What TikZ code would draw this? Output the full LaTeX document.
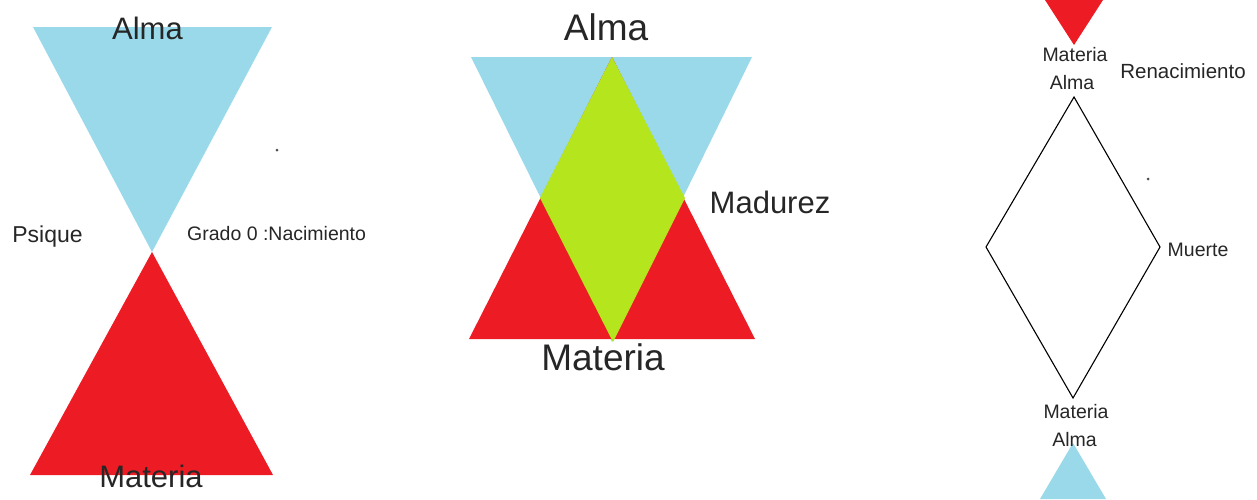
\documentclass[tikz,border=0pt]{standalone}
\usepackage{fontspec}
\setmainfont{Liberation Sans}
\usetikzlibrary{positioning, calc}
\definecolor{almablue}{RGB}{153,217,234}
\definecolor{materiared}{RGB}{237,28,36}
\definecolor{madurezgreen}{RGB}{181,230,29}

\begin{document}
\begin{tikzpicture}[x=1pt, y=-1pt]
        \tikzstyle{lbl} = [inner sep=0pt, text=black!85]
        \tikzstyle{huge} = [lbl, font=\fontsize{37}{37}\selectfont]
        \tikzstyle{big} = [lbl, font=\fontsize{31}{31}\selectfont]
        \tikzstyle{mid} = [lbl, font=\fontsize{23}{23}\selectfont]
        \tikzstyle{small} = [lbl, font=\fontsize{19.5}{19.5}\selectfont]
        \tikzstyle{speck} = [fill=black!70, circle, inner sep=0pt, minimum size=3pt]

        \useasboundingbox (0,0) rectangle (1257,499);

        % grado 0 : nacimiento
        \fill[almablue] (33,27) -- (272,27) -- (152,252) -- cycle;
        \fill[materiared] (152,252) -- (273,475) -- (30,475) -- cycle;
        \node[big] (almaA) at (147.5,28.5) {Alma};
        \node[big] (materiaA) at (151,476) {Materia};
        \node[mid] (psique) at (47.5,236.5) {Psique};
        \node[small, anchor=west, font=\fontsize{19.5}{19.5}\selectfont] (grado) at (187,234) {Grado 0 :Nacimiento};
        \node[speck] (dotA) at (277,150) {};

        % madurez
        \fill[almablue] (471,57) -- (752,57) -- (612,342) -- cycle;
        \fill[materiared] (612,57) -- (755,339) -- (469,339) -- cycle;
        \fill[madurezgreen] (612,57) -- (685,198) -- (613,342) -- (540,198) -- cycle;
        \node[huge] (almaB) at (606,27) {Alma};
        \node[huge] (materiaB) at (603,357) {Materia};
        \node[big] (madurez) at (770,202) {Madurez};

        % muerte y renacimiento
        \fill[materiared] (1045,0) -- (1103,0) -- (1074,45) -- cycle;
        \draw[black, line width=1.1pt] (1074,97) -- (1160,247) -- (1073,398) -- (986,247) -- cycle;
        \fill[almablue] (1073,443) -- (1106,499) -- (1040,499) -- cycle;
        \node[small] (materiaC) at (1075,55) {Materia};
        \node[small] (almaC) at (1072,83) {Alma};
        \node[small, font=\fontsize{20.5}{20.5}\selectfont] (renac) at (1183,71.5) {Renacimiento};
        \node[small] (muerte) at (1198,249.5) {Muerte};
        \node[small] (materiaD) at (1076,411.5) {Materia};
        \node[small] (almaD) at (1074.5,440) {Alma};
        \node[speck] (dotC) at (1148,179) {};
\end{tikzpicture}
\end{document}
